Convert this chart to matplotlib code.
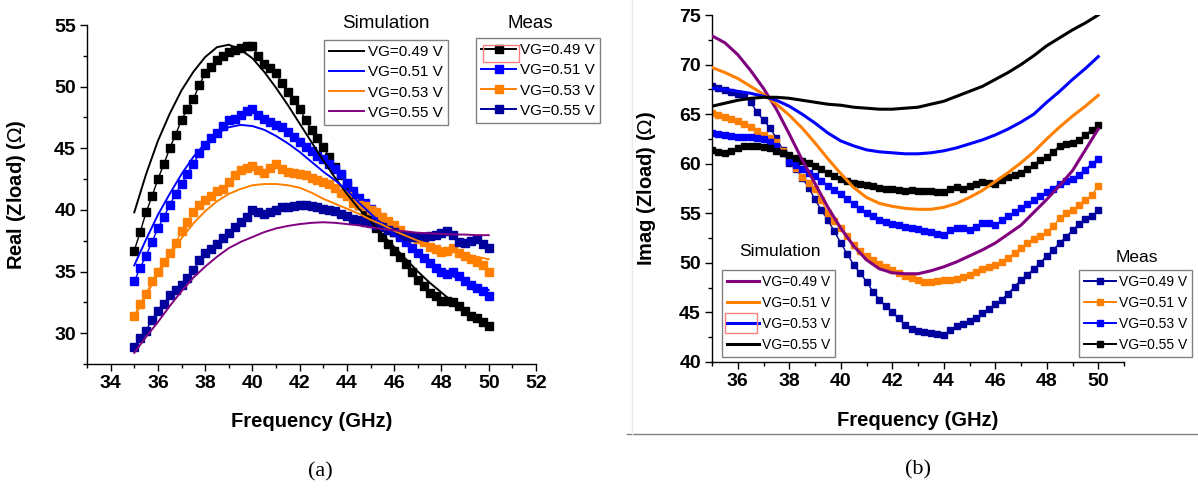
import numpy as np
import matplotlib
matplotlib.use('Agg')
import matplotlib.pyplot as plt
from matplotlib.patches import Rectangle
from matplotlib.lines import Line2D
from matplotlib.ticker import MultipleLocator

plt.rcParams['font.family'] = ['Liberation Sans', 'DejaVu Sans']
plt.rcParams['mathtext.fontset'] = 'dejavusans'

# ---------------- data ----------------
f_meas = np.arange(35, 50.001, 0.25)   # measured frequency grid (GHz)
f_sim = np.arange(35, 50.001, 0.5)     # simulated frequency grid (GHz)

# (a) Real(Zload) - measured
real_meas_049 = [36.7, 38.2, 39.8, 41.1, 42.5, 43.7, 45.0, 46.1, 47.3, 48.2, 49.0, 50.1, 51.1, 51.6, 52.2, 52.5,
                 52.8, 53.0, 53.1, 53.3, 53.3, 52.5, 51.8, 51.5, 51.1, 50.3, 49.6, 48.9, 48.2, 47.3, 46.5, 45.8,
                 45.1, 44.3, 43.5, 42.8, 42.0, 41.1, 40.4, 39.8, 39.2, 38.5, 37.8, 37.2, 36.7, 36.2, 35.6, 35.0,
                 34.3, 33.8, 33.3, 33.0, 32.6, 32.6, 32.5, 32.2, 31.8, 31.4, 31.2, 30.9, 30.6]
real_meas_051 = [34.2, 35.3, 36.3, 37.4, 38.5, 39.4, 40.4, 41.3, 42.1, 42.9, 43.7, 44.6, 45.3, 45.8, 46.2, 46.8,
                 47.3, 47.4, 47.7, 48.0, 48.2, 47.7, 47.4, 47.1, 46.9, 46.7, 46.3, 45.9, 45.5, 45.1, 44.8, 44.4,
                 44.1, 43.7, 43.3, 42.9, 42.2, 41.5, 41.0, 40.6, 40.1, 39.6, 39.1, 38.7, 38.2, 37.8, 37.4, 36.9,
                 36.5, 36.1, 35.7, 35.3, 35.0, 34.8, 35.0, 34.6, 34.2, 33.9, 33.7, 33.4, 33.0]
real_meas_053 = [31.4, 32.4, 33.2, 34.2, 35.0, 35.8, 36.5, 37.3, 38.3, 39.0, 39.8, 40.4, 40.8, 41.1, 41.5, 41.7,
                 42.3, 42.8, 43.2, 43.4, 43.6, 43.2, 43.0, 43.4, 43.7, 43.3, 43.1, 43.0, 42.9, 42.8, 42.6, 42.4,
                 42.3, 42.1, 41.8, 41.4, 41.1, 40.6, 40.4, 40.3, 40.0, 39.8, 39.4, 39.1, 38.8, 38.4, 38.0, 37.8,
                 37.6, 37.4, 37.0, 36.8, 36.6, 36.7, 36.9, 36.5, 36.3, 36.0, 35.8, 35.5, 35.0]
real_meas_055 = [28.9, 29.6, 30.2, 31.1, 31.8, 32.4, 33.1, 33.5, 33.9, 34.5, 35.1, 35.9, 36.5, 36.8, 37.2, 37.7,
                 38.1, 38.6, 39.0, 39.4, 40.0, 39.85, 39.7, 39.85, 40.0, 40.2, 40.25, 40.3, 40.4, 40.4, 40.3, 40.2,
                 40.1, 40.0, 39.9, 39.7, 39.5, 39.3, 39.2, 39.0, 38.9, 38.8, 38.6, 38.4, 38.2, 38.0, 37.9, 37.8,
                 37.8, 37.8, 37.9, 38.0, 38.1, 38.3, 38.0, 37.4, 37.3, 37.5, 37.6, 37.2, 36.9]

# (a) Real(Zload) - simulated
real_sim_049 = [39.8, 42.9, 45.6, 47.8, 49.7, 51.2, 52.4, 53.2, 53.4, 53.0, 52.3, 51.2, 49.9, 48.5, 47.0, 45.5,
                44.0, 42.6, 41.3, 40.1, 39.1, 38.0, 37.0, 36.0, 35.0, 34.1, 33.3, 32.5, 31.8, 31.2, 30.7]
real_sim_051 = [35.5, 37.6, 39.6, 41.3, 42.9, 44.3, 45.4, 46.2, 46.7, 46.9, 46.8, 46.5, 46.0, 45.4, 44.7, 43.9,
                43.1, 42.4, 41.6, 40.6, 39.7, 38.8, 38.0, 37.2, 36.4, 35.7, 35.1, 34.6, 34.2, 33.8, 33.5]
real_sim_053 = [31.3, 33.1, 34.8, 36.3, 37.7, 38.9, 39.9, 40.7, 41.3, 41.7, 42.0, 42.1, 42.1, 42.0, 41.8, 41.4,
                40.9, 40.5, 40.1, 39.7, 39.2, 38.8, 38.3, 37.9, 37.5, 37.2, 36.9, 36.6, 36.4, 36.2, 36.0]
real_sim_055 = [28.4, 29.7, 30.9, 32.2, 33.4, 34.5, 35.4, 36.2, 36.9, 37.4, 37.8, 38.2, 38.5, 38.7, 38.85, 38.95,
                39.0, 38.95, 38.85, 38.75, 38.6, 38.45, 38.35, 38.25, 38.15, 38.1, 38.05, 38.0, 38.0, 37.95, 37.95]

# (b) Imag(Zload) - measured
imag_meas_049 = [67.8, 67.6, 67.4, 67.2, 67.0, 66.8, 66.2, 65.2, 64.4, 63.6, 62.6, 61.4, 60.1, 59.5, 58.6, 57.6,
                 56.4, 55.3, 54.3, 53.2, 52.0, 50.9, 49.8, 49.0, 48.1, 47.1, 46.3, 45.6, 45.0, 44.4, 43.7, 43.3,
                 43.1, 43.0, 42.9, 42.8, 42.7, 43.2, 43.6, 43.8, 44.1, 44.4, 44.9, 45.3, 45.8, 46.3, 46.9, 47.6,
                 48.3, 48.8, 49.4, 50.0, 50.7, 51.3, 52.0, 52.6, 53.3, 53.9, 54.4, 54.7, 55.3]
imag_meas_051 = [65.1, 64.9, 64.7, 64.5, 64.3, 64.0, 63.7, 63.3, 62.9, 62.6, 62.2, 61.3, 60.4, 59.6, 58.7, 58.1,
                 57.5, 56.3, 55.0, 54.2, 53.5, 52.7, 51.8, 51.2, 50.7, 50.3, 49.9, 49.6, 49.3, 49.0, 48.7, 48.5,
                 48.3, 48.1, 48.1, 48.2, 48.3, 48.3, 48.4, 48.6, 48.8, 49.1, 49.4, 49.6, 49.8, 50.1, 50.5, 51.0,
                 51.5, 52.0, 52.4, 52.7, 53.1, 53.7, 54.5, 55.0, 55.3, 55.8, 56.3, 56.8, 57.8]
imag_meas_053 = [63.1, 63.0, 62.9, 62.8, 62.7, 62.7, 62.7, 62.6, 62.5, 62.2, 61.8, 61.1, 60.3, 59.9, 59.5, 59.1,
                 58.8, 58.3, 57.8, 57.3, 56.9, 56.4, 55.9, 55.4, 55.0, 54.7, 54.3, 54.1, 53.9, 53.8, 53.6, 53.5,
                 53.4, 53.2, 53.1, 52.9, 52.8, 53.3, 53.5, 53.5, 53.3, 53.6, 54.0, 54.0, 53.8, 54.3, 54.7, 55.1,
                 55.5, 55.9, 56.3, 56.7, 57.1, 57.5, 58.0, 58.3, 58.5, 58.9, 59.4, 60.0, 60.5]
imag_meas_055 = [61.4, 61.2, 61.1, 61.3, 61.6, 61.75, 61.8, 61.75, 61.7, 61.55, 61.3, 61.1, 60.85, 60.6, 60.3, 60.05,
                 59.8, 59.45, 59.1, 58.8, 58.5, 58.3, 58.1, 57.95, 57.85, 57.75, 57.6, 57.5, 57.4, 57.3, 57.25, 57.3,
                 57.2, 57.2, 57.2, 57.15, 57.1, 57.5, 57.7, 57.5, 57.8, 58.0, 58.2, 58.1, 58.0, 58.4, 58.65, 58.85,
                 59.1, 59.5, 59.9, 60.4, 60.7, 61.2, 61.8, 62.0, 62.1, 62.4, 62.9, 63.4, 63.9]

# (b) Imag(Zload) - simulated
imag_sim_049 = [72.9, 72.2, 71.0, 69.4, 67.6, 65.5, 63.0, 60.4, 58.0, 55.6, 53.5, 51.7, 50.3, 49.4, 49.0, 48.9,
                48.9, 49.2, 49.6, 50.1, 50.7, 51.3, 52.0, 52.9, 53.8, 55.1, 56.4, 57.8, 59.3, 61.4, 63.5]
imag_sim_051 = [69.7, 69.2, 68.6, 67.8, 67.0, 66.0, 64.9, 63.6, 62.1, 60.5, 59.0, 57.6, 56.6, 56.0, 55.7, 55.5,
                55.4, 55.4, 55.6, 56.0, 56.6, 57.3, 58.2, 59.1, 60.1, 61.2, 62.5, 63.7, 64.8, 65.8, 66.9]
imag_sim_053 = [67.6, 67.5, 67.3, 67.1, 66.8, 66.4, 65.8, 65.0, 64.1, 63.1, 62.3, 61.8, 61.4, 61.2, 61.1, 61.0,
                61.0, 61.1, 61.3, 61.6, 62.0, 62.4, 62.9, 63.5, 64.2, 65.0, 66.2, 67.3, 68.5, 69.6, 70.8]
imag_sim_055 = [65.8, 66.1, 66.4, 66.6, 66.7, 66.7, 66.6, 66.4, 66.2, 66.0, 65.9, 65.7, 65.6, 65.5, 65.5, 65.6,
                65.7, 66.0, 66.3, 66.8, 67.3, 67.8, 68.5, 69.2, 70.0, 70.9, 71.9, 72.7, 73.5, 74.2, 75.0]

vg_labels = ['VG=0.49 V', 'VG=0.51 V', 'VG=0.53 V', 'VG=0.55 V']
xticks_a = [34, 36, 38, 40, 42, 44, 46, 48, 50, 52]
yticks_a = [30, 35, 40, 45, 50, 55]
xticks_b = [36, 38, 40, 42, 44, 46, 48, 50]
yticks_b = [40, 45, 50, 55, 60, 65, 70, 75]

# ---------------- style ----------------
BLACK = '#000000'
BLUE = '#0000FF'
ORANGE = '#FF8000'
PURPLE = '#800080'
NAVY = '#00009C'

W, H = 1198, 492
fig = plt.figure(figsize=(W / 100, H / 100), dpi=100)


def fx(px):
    return px / W


def fy(py):
    return 1 - py / H


def style_axes(ax, xt, yt, xmin_step, ymin_step):
    for s in ['top', 'right']:
        ax.spines[s].set_visible(False)
    for s in ['left', 'bottom']:
        ax.spines[s].set_linewidth(1.0)
    ax.set_xticks(xt, labels=[str(v) for v in xt], fontweight='bold', fontsize=14)
    ax.set_yticks(yt, labels=[str(v) for v in yt], fontweight='bold', fontsize=14)
    ax.xaxis.set_minor_locator(MultipleLocator(xmin_step))
    ax.yaxis.set_minor_locator(MultipleLocator(ymin_step))
    ax.tick_params(which='major', direction='out', length=5, width=1, pad=3)
    ax.tick_params(which='minor', direction='out', length=3, width=1)


# ---- panel (a) ----
axA = fig.add_axes([fx(87), fy(364), fx(536) - fx(87), fy(25) - fy(364)])
meas_a = [(real_meas_049, BLACK), (real_meas_051, BLUE), (real_meas_053, ORANGE), (real_meas_055, NAVY)]
sim_a = [(real_sim_049, BLACK), (real_sim_051, BLUE), (real_sim_053, ORANGE), (real_sim_055, PURPLE)]
for vals, c in meas_a:
    axA.plot(f_meas, vals, '-s', color=c, lw=1.0, ms=5.4, mec=c, mfc=c, zorder=2)
for vals, c in sim_a:
    axA.plot(f_sim, vals, '-', color=c, lw=1.4, zorder=3)
axA.set_xlim(33, 52)
axA.set_ylim(27.5, 55)
style_axes(axA, xticks_a, yticks_a, 1, 2.5)
axA.set_xlabel('Frequency (GHz)', fontsize=14.5, fontweight='bold', labelpad=14)
axA.set_ylabel('Real (Zload) ($\\Omega$)', fontsize=14.5, fontweight='bold', labelpad=19)

# ---- panel (b) ----
axB = fig.add_axes([fx(712), fy(362), fx(1124) - fx(712), fy(15) - fy(362)])
meas_b = [(imag_meas_049, NAVY), (imag_meas_051, ORANGE), (imag_meas_053, BLUE), (imag_meas_055, BLACK)]
sim_b = [(imag_sim_049, PURPLE), (imag_sim_051, ORANGE), (imag_sim_053, BLUE), (imag_sim_055, BLACK)]
for vals, c in meas_b:
    axB.plot(f_meas, vals, '-s', color=c, lw=1.0, ms=4.5, mec=c, mfc=c, zorder=2)
for vals, c in sim_b:
    axB.plot(f_sim, vals, '-', color=c, lw=2.2, zorder=3)
axB.set_xlim(35, 51)
axB.set_ylim(40, 75)
style_axes(axB, xticks_b, yticks_b, 1, 2.5)
axB.set_xlabel('Frequency (GHz)', fontsize=14.5, fontweight='bold', labelpad=15)
axB.set_ylabel('Imag (Zload) ($\\Omega$)', fontsize=14.5, fontweight='bold', labelpad=15)


# ---- legends ----
def make_legend(colors, marker, lw, ms, x0, y0, fs, title, tx, ty, tfs, lsp):
    handles = []
    for c, lab in zip(colors, vg_labels):
        if marker:
            handles.append(Line2D([], [], color=c, lw=lw, marker='s', ms=ms, mec=c, mfc=c, label=lab))
        else:
            handles.append(Line2D([], [], color=c, lw=lw, label=lab))
    leg = fig.legend(handles=handles, loc='upper left', bbox_to_anchor=(fx(x0), fy(y0)),
                     bbox_transform=fig.transFigure, borderaxespad=0, fontsize=fs, frameon=True,
                     fancybox=False, edgecolor='#808080', framealpha=1, numpoints=1,
                     handlelength=2.3, handletextpad=0.25, labelspacing=lsp, borderpad=0.35)
    leg.get_frame().set_linewidth(1.0)
    fig.text(fx(tx), fy(ty), title, ha='center', va='center', fontsize=tfs)
    return leg


make_legend([BLACK, BLUE, ORANGE, PURPLE], False, 1.4, 0, 324, 40, 11, 'Simulation', 386, 23, 13.5, 0.4)
make_legend([BLACK, BLUE, ORANGE, NAVY], True, 1.4, 5.2, 476, 38, 11, 'Meas', 530, 23, 13.5, 0.4)
make_legend([PURPLE, ORANGE, BLUE, BLACK], False, 2.2, 0, 722, 270, 10, 'Simulation', 780, 252, 12.5, 0.5)
make_legend([NAVY, ORANGE, BLUE, BLACK], True, 1.4, 4.3, 1079, 270, 10, 'Meas', 1137, 257, 12.5, 0.5)

# selection highlight boxes (as in original figure)
for (x0, y0, x1, y1) in [(483, 45, 519, 62), (725, 313, 757, 333)]:
    fig.patches.append(Rectangle((fx(x0), fy(y1)), fx(x1) - fx(x0), fy(y0) - fy(y1),
                                 transform=fig.transFigure, fill=False, edgecolor='#FF8080', lw=1.0,
                                 zorder=10))

# separator lines of panel (b)
fig.add_artist(Line2D([fx(627), fx(1198)], [fy(434), fy(434)], transform=fig.transFigure,
                      color='#808080', lw=1.0))
fig.add_artist(Line2D([fx(632), fx(632)], [fy(0), fy(434)], transform=fig.transFigure,
                      color='#EBEBEB', lw=1.0))

# captions
fig.text(fx(320), fy(472), '(a)', ha='center', va='center', fontsize=16, family='Liberation Serif')
fig.text(fx(918), fy(470), '(b)', ha='center', va='center', fontsize=16, family='Liberation Serif')

fig.savefig('out.png', dpi=100)
